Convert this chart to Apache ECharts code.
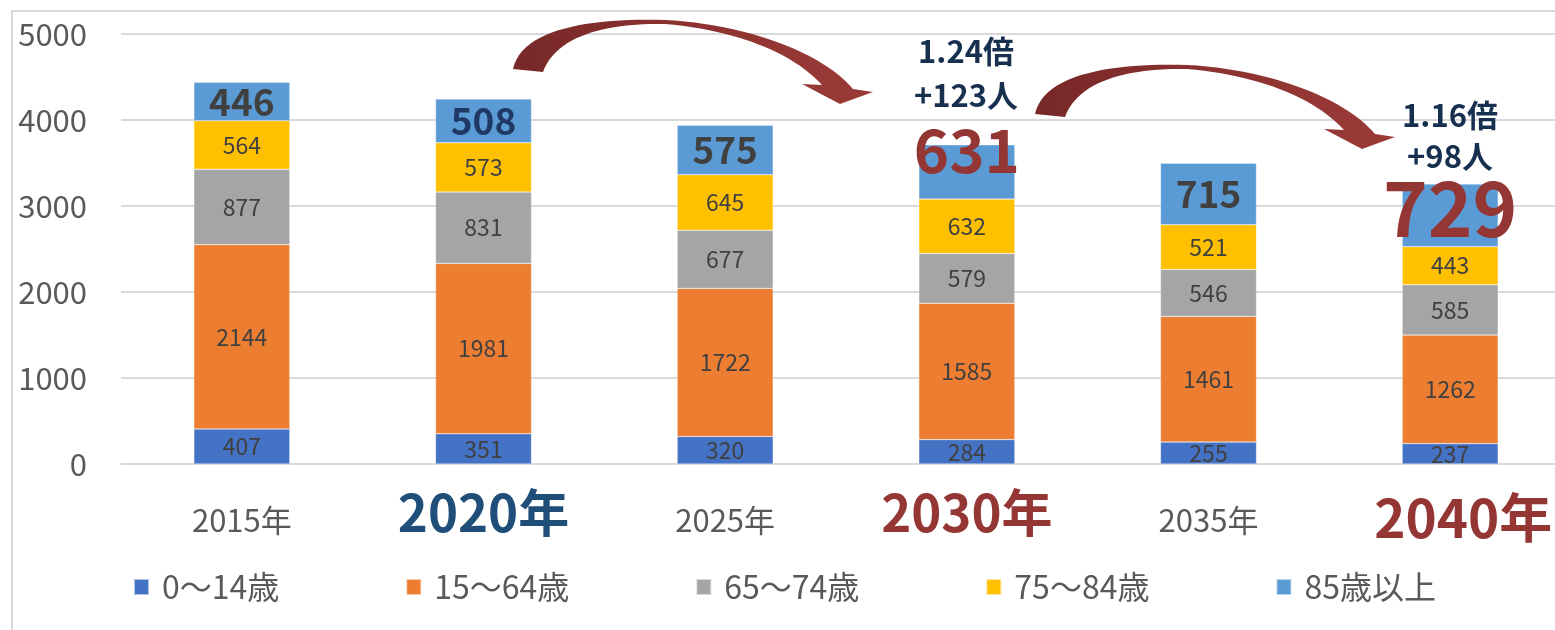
<!DOCTYPE html>
<html>
<head>
<meta charset="utf-8">
<script src="https://cdn.jsdelivr.net/npm/echarts@6/dist/echarts.min.js"></script>
<style>
    html, body { margin: 0; padding: 0; background: #fff; }
    #main { width: 1555px; height: 630px; }
</style>
</head>
<body>
<div id="main"></div>

<script type="text/javascript">
    // data
    var years = ['2015年', '2020年', '2025年', '2030年', '2035年', '2040年'];
    var age0014 = [407, 351, 320, 284, 255, 237];
    var age1564 = [2144, 1981, 1722, 1585, 1461, 1262];
    var age6574 = [877, 831, 677, 579, 546, 585];
    var age7584 = [564, 573, 645, 632, 521, 443];
    var age85 = [446, 508, 575, 631, 715, 729];
    var yTicks = [0, 1000, 2000, 3000, 4000, 5000];
    var seriesNames = ['0～14歳', '15～64歳', '65～74歳', '75～84歳', '85歳以上'];

    var FONT = '"Noto Sans CJK JP", "Noto Sans", sans-serif';
    var colors = ['#4472C4', '#ED7D31', '#A5A5A5', '#FFC000', '#5B9BD5'];

    // label look of the top (85+) segment, per year
    var topLabels = [
        {fontSize: 37, color: '#404040'},
        {fontSize: 37, color: '#1F3864'},
        {fontSize: 37, color: '#404040'},
        {fontSize: 60, color: '#943634', offset: [0, -22]},
        {fontSize: 37, color: '#404040'},
        {fontSize: 76, color: '#943634', offset: [0, -7]}
    ];

    var myChart = echarts.init(document.getElementById('main'));

    function plainLabel() {
        return {
            show: true,
            position: 'inside',
            fontSize: 23,
            color: '#404040',
            fontFamily: FONT
        };
    }

    function barSeries(name, data) {
        return {
            name: name,
            type: 'bar',
            stack: 'total',
            barWidth: 96,
            data: data,
            label: plainLabel(),
            itemStyle: {borderColor: 'rgba(255,255,255,0.6)', borderWidth: 0.5}
        };
    }

    var topData = age85.map(function (v, i) {
        var l = topLabels[i];
        return {
            value: v,
            label: {
                show: true,
                position: 'inside',
                fontSize: l.fontSize,
                fontWeight: 'bold',
                color: l.color,
                fontFamily: FONT,
                offset: l.offset || [0, 0]
            }
        };
    });

    // curved arrow outline (decoration), sampled from cubic curves
    function cubic(p0, p1, p2, p3, n) {
        var pts = [];
        for (var k = 1; k <= n; k++) {
            var t = k / n, u = 1 - t;
            pts.push([
                u * u * u * p0[0] + 3 * u * u * t * p1[0] + 3 * u * t * t * p2[0] + t * t * t * p3[0],
                u * u * u * p0[1] + 3 * u * u * t * p1[1] + 3 * u * t * t * p2[1] + t * t * t * p3[1]
            ]);
        }
        return pts;
    }

    function arrowPoints(dx, dy) {
        var pts = [[513, 69]];
        pts = pts.concat(cubic([513, 69], [522, 28], [592, 18], [665, 20], 24));
        pts = pts.concat(cubic([665, 20], [745, 24], [822, 52], [853, 89], 24));
        pts.push([873, 92], [840, 104], [802, 84], [822, 85]);
        pts = pts.concat(cubic([822, 85], [792, 52], [735, 30], [665, 24], 24));
        pts = pts.concat(cubic([665, 24], [605, 23], [556, 36], [543, 72], 24));
        return pts.map(function (p) { return [p[0] + dx, p[1] + dy]; });
    }

    function arrowFill() {
        return {
            type: 'linear', x: 0, y: 0, x2: 1, y2: 0,
            colorStops: [
                {offset: 0, color: '#772828'},
                {offset: 0.5, color: '#8C3230'},
                {offset: 1, color: '#9B3B38'}
            ]
        };
    }

    function note(text, x, y) {
        return {
            type: 'text',
            x: x,
            y: y,
            z: 100,
            style: {
                text: text,
                align: 'center',
                verticalAlign: 'middle',
                fontSize: 31,
                fontWeight: 'bold',
                fontFamily: FONT,
                fill: '#17304F'
            }
        };
    }

    var option = {
        animation: false,
        color: colors,
        grid: {left: 121, top: 34, width: 1450, height: 430, containLabel: false, outerBoundsMode: 'none'},
        legend: {
            data: seriesNames,
            left: 128,
            top: 566,
            icon: 'rect',
            itemWidth: 15,
            itemHeight: 16,
            itemGap: 126,
            textStyle: {fontSize: 32, color: '#595959', fontFamily: FONT, padding: [0, 0, 0, 8]}
        },
        xAxis: {
            type: 'category',
            data: years,
            axisTick: {show: false},
            axisLine: {lineStyle: {color: '#D9D9D9', width: 2}},
            axisLabel: {
                interval: 0,
                margin: 24,
                formatter: function (v, i) {
                    if (i === 1) return '{b|' + v + '}';
                    if (i === 3) return '{r|' + v + '}';
                    if (i === 5) return '{r2|' + v + '}';
                    return '{n|' + v + '}';
                },
                rich: {
                    n: {fontSize: 31, color: '#595959', fontFamily: FONT, lineHeight: 64},
                    b: {fontSize: 51, fontWeight: 'bold', color: '#1F4E79', fontFamily: FONT, lineHeight: 50},
                    r: {fontSize: 51, fontWeight: 'bold', color: '#943634', fontFamily: FONT, lineHeight: 50},
                    r2: {fontSize: 53, fontWeight: 'bold', color: '#943634', fontFamily: FONT, lineHeight: 60,
                        padding: [0, 0, 0, 26]}
                }
            }
        },
        yAxis: {
            type: 'value',
            min: yTicks[0],
            max: yTicks[yTicks.length - 1],
            interval: yTicks[1] - yTicks[0],
            axisLine: {show: false},
            axisTick: {show: false},
            axisLabel: {
                fontSize: 31, color: '#595959', fontFamily: FONT, margin: 34,
                formatter: function (v) { return String(v); }
            },
            splitLine: {lineStyle: {color: '#D9D9D9', width: 2}}
        },
        series: [
            barSeries(seriesNames[0], age0014),
            barSeries(seriesNames[1], age1564),
            barSeries(seriesNames[2], age6574),
            barSeries(seriesNames[3], age7584),
            barSeries(seriesNames[4], topData)
        ],
        graphic: [
            {
                type: 'rect', z: -10, silent: true,
                shape: {x: 12, y: 11, width: 1600, height: 700},
                style: {fill: 'none', stroke: '#D9D9D9', lineWidth: 2}
            },
            {type: 'polygon', z: 90, shape: {points: arrowPoints(0, 0)}, style: {fill: arrowFill()}},
            {type: 'polygon', z: 90, shape: {points: arrowPoints(522, 45)}, style: {fill: arrowFill()}},
            note('1.24倍', 966, 51),
            note('+123人', 966, 95),
            note('1.16倍', 1450, 115),
            note('+98人', 1450, 156)
        ]
    };

    myChart.setOption(option);
</script>
</body>
</html>
